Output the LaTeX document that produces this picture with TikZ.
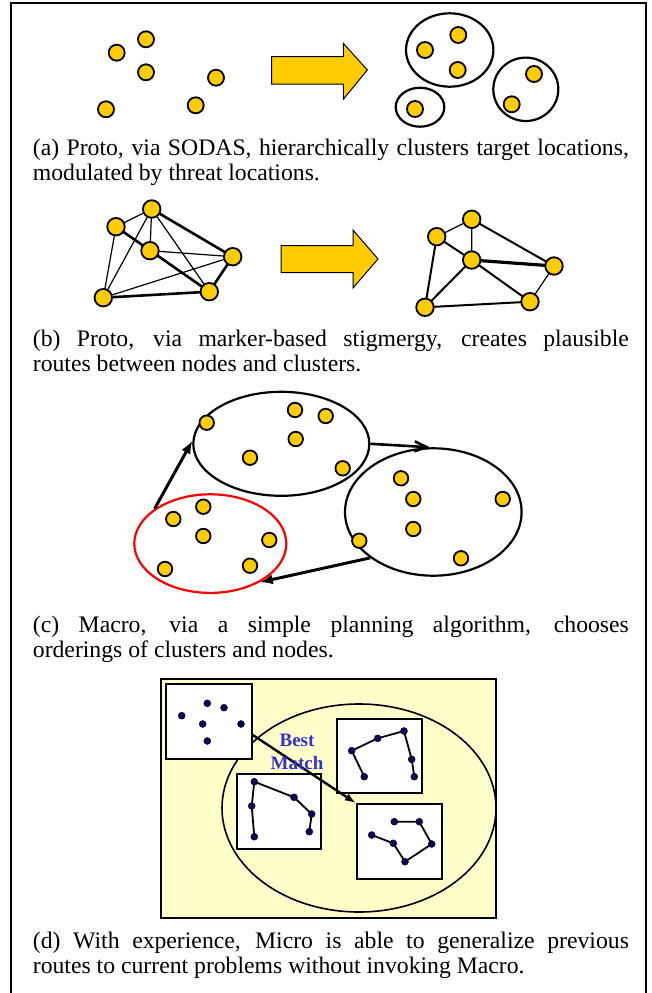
\documentclass[tikz,border=0pt]{standalone}
\usepackage{fontspec}
\setmainfont{Liberation Serif}
\usetikzlibrary{shapes.geometric,arrows.meta,calc}
\definecolor{gold}{RGB}{255,204,0}
\definecolor{paleyellow}{RGB}{255,255,204}
\definecolor{navydot}{RGB}{10,10,90}
\definecolor{matchblue}{RGB}{51,51,204}
\hyphenpenalty=10000\relax
\exhyphenpenalty=10000\relax
\hbadness=10000\relax
\begin{document}
\begin{tikzpicture}[x=1pt,y=-1pt,
  dot/.style={circle,draw,fill=gold,line width=1.8pt,minimum size=16pt,inner sep=0pt},
  bigdot/.style={dot,minimum size=17.5pt},
  cdot/.style={dot,minimum size=14.5pt},
  sdot/.style={circle,fill=navydot,draw=black,line width=0.4pt,minimum size=7pt,inner sep=0pt},
  cluster/.style={ellipse,draw,line width=2.2pt,inner sep=0pt},
  fatarrow/.style={draw=black,fill=gold,line width=1pt,line join=miter},
  caption/.style={anchor=north west,inner sep=0pt,text width=596pt,align=justify,
    font=\fontsize{23.7}{25}\selectfont},
  thin/.style={line width=1.2pt},
  thick2/.style={line width=2.6pt},
  carrow/.style={line width=3pt,-{Latex[length=13pt,width=10pt]}},
  wbox/.style={draw,fill=white,line width=1.8pt,inner sep=0pt},
  route/.style={line width=1.8pt}
]
\useasboundingbox (0,0) rectangle (651,993);
\fill[white] (0,0) rectangle (651,993);
\draw[line width=2pt] (11,993) -- (11,3) -- (646,3) -- (646,993);

% ---------- (a) ----------
\node[dot] (a1) at (116.7,52.7) {};
\node[dot] (a2) at (146,39.3) {};
\node[dot] (a3) at (146,72.3) {};
\node[dot] (a4) at (216,77.7) {};
\node[dot] (a5) at (106,109.3) {};
\node[dot] (a6) at (195.7,105.3) {};
\draw[fatarrow] (271.7,56.7) -- (343.3,56.7) -- (343.3,43.3) -- (367.3,70) -- (343.3,99.3) -- (343.3,84) -- (271.7,84) -- cycle;
\node[cluster,minimum width=87.4pt,minimum height=73.4pt] (ca1) at (449.7,50) {};
\node[cluster,minimum width=65pt,minimum height=63.4pt] (ca2) at (525.8,89.3) {};
\node[cluster,minimum width=48.6pt,minimum height=39pt] (ca3) at (420,107.2) {};
\node[dot] (a7) at (458.3,35) {};
\node[dot] (a8) at (425,50) {};
\node[dot] (a9) at (457.7,70) {};
\node[dot] (a10) at (534,74) {};
\node[dot] (a11) at (511.7,104.3) {};
\node[dot] (a12) at (415,109) {};
\node[caption] (capa) at (32.7,138.8) {(a) Proto, via SODAS, hierarchically clusters target locations,\linebreak modulated by threat locations.};

% ---------- (b) ----------
\coordinate (bA) at (151.7,209);
\coordinate (bB) at (116,226.7);
\coordinate (bC) at (150,250.7);
\coordinate (bD) at (232.7,256.7);
\coordinate (bE) at (103.3,297.7);
\coordinate (bF) at (209.3,291.7);
\draw[thin] (bA) -- (bB) (bA) -- (bC) (bA) -- (bE) (bA) -- (bF) (bB) -- (bC) (bB) -- (bE)
  (bC) -- (bD) (bC) -- (bF) (bD) -- (bE);
\draw[thick2] (bA) -- (bD) (bB) -- (bF) (bD) -- (bF) (bE) -- (bF);
\foreach \n in {bA,bB,bC,bD,bE,bF} \node[bigdot] at (\n) {};

\draw[fatarrow] (281,245.5) -- (353,245.5) -- (353,230) -- (378,259) -- (353,288) -- (353,272.5) -- (281,272.5) -- cycle;

\coordinate (p1) at (471.7,219.3);
\coordinate (p2) at (436.7,236.7);
\coordinate (p3) at (471.7,260);
\coordinate (p4) at (554,266);
\coordinate (p5) at (425,307.3);
\coordinate (p6) at (530,301.7);
\draw[thin] (p1) -- (p2) (p1) -- (p3) (p4) -- (p6);
\draw[line width=2pt] (p1) -- (p4) (p2) -- (p3) (p2) -- (p5) (p3) -- (p5) (p3) -- (p6) (p5) -- (p6);
\draw[line width=3.2pt] (p3) -- (p4);
\foreach \n in {p1,p2,p3,p4,p5,p6} \node[bigdot] at (\n) {};
\node[caption] (capb) at (32.7,329.8) {(b) Proto, via marker-based stigmergy, creates plausible\linebreak routes between nodes and clusters.};

% ---------- (c) ----------
\node[cluster,minimum width=176pt,minimum height=104pt] (topE) at (281.3,443.8) {};
\node[cluster,minimum width=176.6pt,minimum height=127.4pt] (rightE) at (433.3,512) {};
\node[cluster,draw=red,minimum width=152pt,minimum height=98.6pt] (redE) at (210.3,543.6) {};
\foreach \p [count=\i] in {(295,410),(325.7,416),(295.7,439),(250,457.7),(342.7,468.3),(206.7,422.7)}
  \node[cdot] (ct\i) at \p {};
\foreach \p [count=\i] in {(401,478.3),(413.3,499),(502.7,499),(413.3,529),(359.3,540.7),(461,558.3)}
  \node[cdot] (cr\i) at \p {};
\foreach \p [count=\i] in {(203.3,506.7),(173.3,519),(203.3,536),(269.3,540),(165,569),(250,565.7)}
  \node[cdot] (cl\i) at \p {};
\draw[carrow] (redE.148) -- (topE.178);
\draw[line width=2.6pt,-{Straight Barb[length=12pt,width=10pt]}] (topE.0) -- (rightE.93);
\draw[carrow] (rightE.216) -- (redE.322);
\node[caption] (capc) at (32.7,615.8) {(c) Macro, via a simple planning algorithm, chooses\linebreak orderings of clusters and nodes.};

% ---------- (d) ----------
\draw[line width=2pt,fill=paleyellow] (161,679) rectangle (496,918);
\node[ellipse,draw,line width=1.6pt,minimum width=274pt,minimum height=208pt,inner sep=0pt] (bigE) at (359,808) {};
\node[wbox,minimum width=85.7pt,minimum height=75pt] (box1) at (208.85,721.5) {};
\node[wbox,minimum width=85pt,minimum height=74.3pt] (box2) at (379.2,756.2) {};
\node[wbox,minimum width=85.6pt,minimum height=75.3pt] (box3) at (399.5,841.65) {};
\node[wbox,minimum width=84.3pt,minimum height=75pt] (box4) at (278.85,811.5) {};
\foreach \p [count=\i] in {(207.3,703.3),(224,707.7),(181.7,715.7),(202.7,724),(241,724),(207.3,741)}
  \node[sdot] (d1\i) at \p {};
\foreach \p [count=\i] in {(364.3,776.7),(351.7,750.7),(377.7,738.3),(404,731),(411.7,759.3),(414.3,776.7)}
  \path \p coordinate (d2\i);
\draw[route] (d21) -- (d22) -- (d23) -- (d24) -- (d25) -- (d26);
\foreach \i in {1,...,6} \node[sdot] at (d2\i) {};
\foreach \p [count=\i] in {(371.7,835),(393.3,843.3),(405,861.7),(431.7,844),(419.3,821.7),(394.3,821.7)}
  \path \p coordinate (d3\i);
\draw[route] (d31) -- (d32) -- (d33) -- (d34) -- (d35) -- (d36);
\foreach \i in {1,...,6} \node[sdot] at (d3\i) {};
\foreach \p [count=\i] in {(254.3,836.7),(251.7,806),(254.3,781.7),(294,797.3),(311.7,814),(309.3,831.7)}
  \path \p coordinate (d4\i);
\draw[route] (d41) -- (d42) -- (d43) -- (d44) -- (d45) -- (d46);
\foreach \i in {1,...,6} \node[sdot] at (d4\i) {};
\draw[line width=2.4pt,-{Latex[length=11pt,width=8pt]}] (box1.-17.5) -- (box3.north west);
\node[align=center,text=matchblue,font=\fontsize{19}{22.6}\selectfont\bfseries,inner sep=0pt] (bm) at (297,752) {Best\\Match};
\node[caption] (capd) at (32.7,931.8) {(d) With experience, Micro is able to generalize previous\linebreak routes to current problems without invoking Macro.};
\end{tikzpicture}
\end{document}
